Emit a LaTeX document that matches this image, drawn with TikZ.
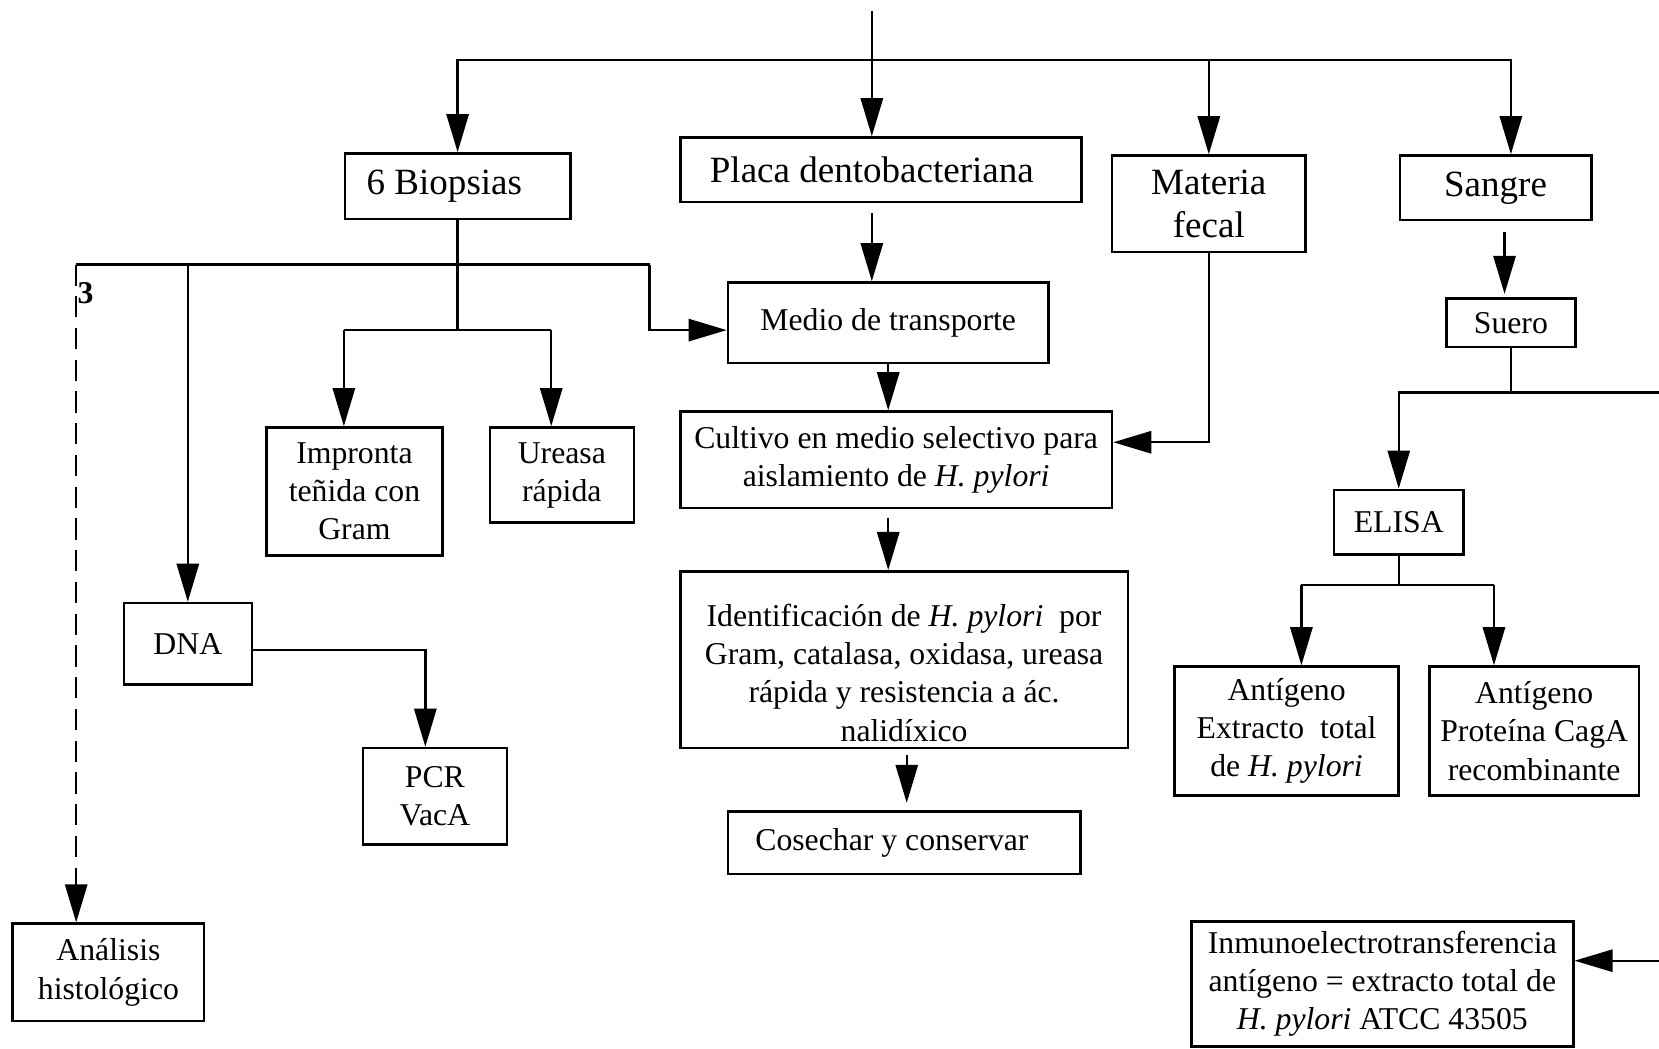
\documentclass[tikz,border=0pt]{standalone}
\usepackage{fontspec}
\setmainfont{Liberation Serif}
\usetikzlibrary{arrows.meta,calc}
\begin{document}
\begin{tikzpicture}[x=0.5pt,y=-0.5pt,
  bx/.style={draw, line width=1.2pt, inner sep=0pt, align=center, font=\fontsize{15}{18}\selectfont},
  big/.style={font=\fontsize{17.5}{20.5}\selectfont},
  ln/.style={line width=1.1pt},
  arr/.style={ln, -{Triangle[length=18pt,width=10.5pt]}},
  dsh/.style={arr, dash pattern=on 10pt off 5pt}]
\useasboundingbox (0,0) rectangle (1568,991);

% boxes
\node[bx,big,minimum width=106.5pt,minimum height=31pt] (bio) at (432.5,176) {6 Biopsias\hspace{12.5pt}};
\node[bx,big,minimum width=189.5pt,minimum height=30.5pt] (placa) at (832.5,160.5) {Placa dentobacteriana\hspace{8.5pt}};
\node[bx,big,minimum width=91.5pt,minimum height=45.5pt] (mat) at (1142.5,192.5) {Materia\\fecal};
\node[bx,big,minimum width=90.5pt,minimum height=30.5pt] (sangre) at (1413.5,177.5) {Sangre};
\node[bx,minimum width=151.5pt,minimum height=38pt] (medio) at (839.5,305) {Medio de transporte};
\node[bx,minimum width=61pt,minimum height=23pt] (suero) at (1428,305) {Suero};
\node[bx,minimum width=83pt,minimum height=60.5pt] (impr) at (335,464.5) {Impronta\\teñida con\\Gram};
\node[bx,minimum width=68pt,minimum height=45pt] (ureasa) at (531,449) {Ureasa\\rápida};
\node[bx,minimum width=204pt,minimum height=45.5pt] (cult) at (847,434.5) {Cultivo en medio selectivo para\\aislamiento de \textit{H. pylori}};
\node[bx,minimum width=61pt,minimum height=30.5pt] (elisa) at (1322,493.5) {ELISA};
\node[bx,minimum width=60.5pt,minimum height=38.5pt] (dna) at (177.5,608.5) {DNA};
\node[bx,minimum width=211.5pt,minimum height=83.5pt] (ident) at (854.5,623.5) {\rule{0pt}{23pt}Identificación de \textit{H. pylori}\ \ por\\Gram, catalasa, oxidasa, ureasa\\rápida y resistencia a ác.\\nalidíxico};
\node[bx,minimum width=106pt,minimum height=61pt] (ag1) at (1216,691) {Antígeno\\Extracto\ \ total\\de \textit{H. pylori}};
\node[bx,minimum width=99pt,minimum height=61pt] (ag2) at (1450,691) {Antígeno\\Proteína CagA\\recombinante};
\node[bx,minimum width=68pt,minimum height=45.5pt] (pcr) at (411,752.5) {PCR\\VacA};
\node[bx,minimum width=166.5pt,minimum height=29.5pt] (cos) at (854.5,796.5) {Cosechar y conservar\hspace{11.5pt}};
\node[bx,minimum width=90.5pt,minimum height=46pt] (anal) at (102.5,919) {Análisis\\histológico};
\node[bx,minimum width=180.5pt,minimum height=59pt] (inmu) at (1306.5,930) {Inmunoelectrotransferencia\\antígeno = extracto total de\\\textit{H. pylori} ATCC 43505};

% top distribution
\coordinate (top) at (824,10);
\coordinate (jt) at (824,57);
\draw[arr] (top) -- (top |- placa.north);
\draw[arr] (jt) -| (bio.north);
\draw[arr] (jt) -| (mat.north);
\draw[arr] (jt) -| ($(sangre.north)+(14.5,0)$);

% central column
\draw[arr] ($(placa.south -| top)+(0,9)$) -- (top |- medio.north);
\draw[arr] (medio.south) -- (medio.south |- cult.north);
\draw[arr] ($(medio.south |- cult.south)+(0,8)$) -- (medio.south |- ident.north);
\draw[arr] ($(ident.south)+(2.5,5)$) -- ($(cos.north)+(2.5,-7)$);
\draw[arr] (mat.south) |- ($(cult.east)+(0,-16.5)$);

% biopsias tree
\coordinate (l3) at (72,250);
\coordinate (r1) at (614,250);
\coordinate (j2) at (432.5,312);
\coordinate (ia) at (325,312);
\coordinate (ua) at (521,312);
\draw[ln] (bio.south) -- (j2);
\draw[ln] (l3) -- (r1);
\draw[arr] (r1) |- ($(medio.west)+(0,7)$);
\draw[arr] (dna.north |- l3) -- (dna.north);
\draw[dsh] (l3) -- (l3 |- anal.north);
\node[font=\fontsize{15}{18}\selectfont\bfseries, anchor=west, inner sep=0pt] (lbl3) at (73,277) {3};
\draw[ln] (ia) -- (ua);
\draw[arr] (ia) -- (ia |- impr.north);
\draw[arr] (ua) -- (ua |- ureasa.north);
\draw[arr] ($(dna.east)+(0,6)$) -| ($(pcr.north)+(-9,0)$);

% sangre branch
\draw[arr] ($(sangre.south)+(8.5,10)$) -- ($(suero.north)+(-6,-3)$);
\coordinate (js) at (1428,371);
\coordinate (edgeA) at (1568,371);
\coordinate (edgeB) at (1568,908);
\draw[ln] (suero.south) -- (js);
\draw[arr] (js) -| (elisa.north);
\draw[ln] (js) -- (edgeA);
\draw[arr] (edgeB) -- (edgeB -| inmu.east);

% elisa branch
\coordinate (je) at (1322,553);
\coordinate (ea) at (1230,553);
\coordinate (eb) at (1412,553);
\draw[ln] (elisa.south) -- (je);
\draw[ln] (ea) -- (eb);
\draw[arr] (ea) -- (ea |- ag1.north);
\draw[arr] (eb) -- (eb |- ag2.north);
\end{tikzpicture}
\end{document}
